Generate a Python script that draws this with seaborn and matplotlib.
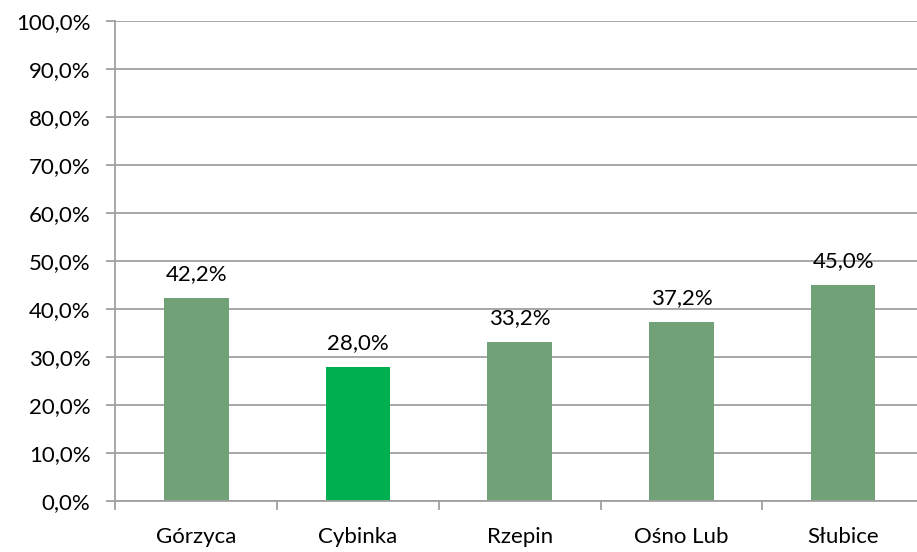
import matplotlib
matplotlib.use("Agg")
import matplotlib.pyplot as plt
import seaborn as sns
import pandas as pd
from matplotlib.ticker import FuncFormatter, MultipleLocator

categories = ["Górzyca", "Cybinka", "Rzepin", "Ośno Lub", "Słubice"]
values = [42.2, 28.0, 33.2, 37.2, 45.0]
bar_colors = ["#71A277", "#00B050", "#71A277", "#71A277", "#71A277"]

sns.set_theme(style="white")
plt.rcParams['font.family'] = ['Lato', 'DejaVu Sans']

df = pd.DataFrame({"cat": categories, "val": values})

fig = plt.figure(figsize=(9.17, 5.52), dpi=100)
ax = fig.add_axes([115.5/917, 1-501/552, (924-115.5)/917, (501-21)/552])

sns.barplot(data=df, x="cat", y="val", hue="cat", palette=bar_colors,
            width=0.40, legend=False, ax=ax, saturation=1, linewidth=0)

ax.set_xlim(-0.5, 4.5)
ax.set_ylim(0, 100)
ax.yaxis.set_major_locator(MultipleLocator(10))
ax.yaxis.set_major_formatter(FuncFormatter(lambda v, p: f"{v:.1f}%".replace(".", ",")))
ax.grid(axis="y", color="#A0A0A0", linewidth=1.3)
ax.set_axisbelow(True)
ax.set_xlabel("")
ax.set_ylabel("")

for s in ["top", "right"]:
    ax.spines[s].set_visible(False)
for s in ["left", "bottom"]:
    ax.spines[s].set_color("#A0A0A0")
    ax.spines[s].set_linewidth(1.3)

ax.set_xticks(range(len(categories)))
ax.set_xticklabels(categories)
ax.xaxis.set_minor_locator(MultipleLocator(1, offset=0.5))
ax.tick_params(axis="x", which="major", length=0, pad=19, labelsize=16, colors="black")
ax.tick_params(axis="x", which="minor", length=6.5, width=1.3, color="#A0A0A0", bottom=True)
ax.tick_params(axis="y", which="major", length=6.5, width=1.3, color="#A0A0A0", left=True,
               labelsize=16, labelcolor="black", pad=11.5)

for i, v in enumerate(values):
    ax.annotate(f"{v:.1f}%".replace(".", ","), (i, v), xytext=(0, 10),
                textcoords="offset points", ha="center", va="bottom", fontsize=16, color="black")

fig.savefig("out.png", dpi=100)
